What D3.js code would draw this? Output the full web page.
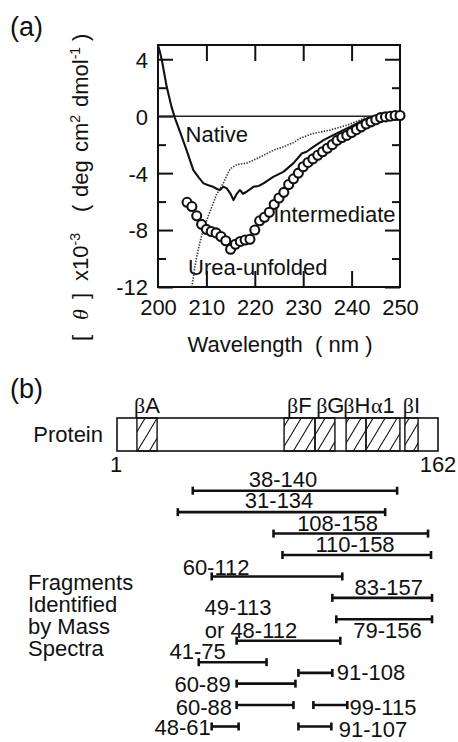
<!DOCTYPE html>
<html>
<head>
<meta charset="utf-8">
<script src="https://cdn.jsdelivr.net/npm/d3@7"></script>
<style>
  html, body { margin: 0; padding: 0; background: #fff; }
  svg { display: block; font-family: "Liberation Sans", Arial, Helvetica, sans-serif; }
  .axis text { font-family: "Liberation Sans", Arial, sans-serif; font-size: 22px; fill: #111; }
  .axis line { stroke: #111; stroke-width: 2; }
</style>
</head>
<body>
<div id="chart"></div>
<script>
// panel (a): CD spectra, panel (b): fragment map

// --- data (a) ---
const nativeWl  = [200, 200.4, 200.8, 201.8, 202.8, 203.5, 204.5, 205.9, 207.3, 208.4, 209.4, 210.4, 211.4, 212.1, 212.8, 213.5, 214.2, 214.9, 215.6, 216.2, 216.9, 217.6, 218.3, 219.7, 220.8, 221.8, 223.8, 225.9, 228.0, 229.7, 230.7, 232.1, 234.2, 236.2, 238.3, 240.4, 242.4, 243.8, 246.9, 250];
const nativeVal = [4.98, 4.5, 3.93, 2.06, 0.65, -0.14, -1.05, -2.39, -3.79, -4.3, -4.72, -4.85, -4.96, -5.1, -5.19, -4.95, -5.07, -5.4, -5.89, -5.5, -5.19, -5.45, -5.31, -4.96, -4.9, -4.72, -4.26, -3.91, -3.30, -2.62, -2.50, -2.15, -1.68, -1.33, -0.98, -0.63, -0.28, -0.07, 0, 0];

const ureaWl  = [207.0, 207.6, 208.3, 209.0, 210.4, 211.1, 212.1, 213.5, 214.9, 216.3, 218.3, 219.7, 221.8, 223.8, 225.9, 228.0, 229.3, 232.1, 235.5, 239.0, 241.7, 243.1, 245];
const ureaVal = [-12.0, -10.6, -9.4, -8.4, -7.0, -6.4, -5.5, -4.7, -3.7, -3.4, -3.3, -3.1, -2.75, -2.4, -2.15, -1.85, -1.56, -1.21, -0.98, -0.63, -0.28, -0.05, 0];

const interWl  = [206, 207, 208, 209, 210, 211, 212, 213, 214, 215, 216, 217, 218, 219, 220, 221, 222, 223, 224, 225, 226, 227, 228, 229, 230, 231, 232, 233, 234, 235, 236, 237, 238, 239, 240, 241, 242, 243, 244, 245, 246, 247, 248, 249, 250];
const interVal = [-6.05, -6.35, -7.0, -7.6, -7.95, -8.1, -8.2, -8.45, -8.75, -9.35, -9.0, -8.8, -8.7, -8.65, -8.0, -7.35, -7.1, -6.75, -6.2, -5.75, -5.35, -4.8, -4.4, -4.0, -3.55, -3.25, -3.0, -2.75, -2.5, -2.25, -2.0, -1.7, -1.5, -1.35, -1.15, -0.95, -0.75, -0.55, -0.4, -0.25, -0.1, -0.05, 0.0, 0.05, 0.05];

const yMajorTicks = [4, 0, -4, -8, -12];
const yMinorTicks = [2, -2, -6, -10];
const xTicks      = [200, 210, 220, 230, 240, 250];

const curveLabels = ["Native", "Intermediate", "Urea-unfolded"];
const curveLabelWl  = [205.7, 223.8, 206.2];
const curveLabelVal = [-1.8, -7.44, -11.16];

// --- data (b) ---
const structNames = ["A", "F", "G", "H", "1", "I"];
const structGreek = ["β", "β", "β", "β", "α", "β"];
const structStart = [11, 84.8, 100.3, 115.9, 125.9, 145.4];
const structEnd   = [21.1, 100.3, 110.3, 125.9, 142.9, 152];
const structLabelAt = [16, 92.5, 108, 121.3, 134.4, 148.7];

const fragStart = [39, 31.5, 79.5, 84, 48.5, 109, 111, 61, 42, 92, 61, 61, 99.5, 48.5, 92];
const fragEnd   = [141.5, 135.5, 157, 158.5, 114, 159, 159, 113, 76, 109, 90.5, 89.5, 116.5, 62, 108.5];
const fragRow   = [0, 1, 2, 3, 4, 5, 6, 7, 8, 8.5, 9, 10, 10, 11, 11];

const fragLabels   = ["38-140", "31-134", "108-158", "110-158", "60-112", "83-157", "79-156", "49-113", "or 48-112", "41-75", "91-108", "60-89", "60-88", "99-115", "48-61", "91-107"];
const fragLabelRes = [84.3, 82.3, 111.6, 120.4, 50.7, 137.3, 136.7, 61.7, 68.2, 41.4, 128.4, 43.9, 44.6, 134.4, 33.9, 129.4];
const fragLabelRow = [-0.19, 0.81, 1.87, 2.85, 3.93, 4.87, 6.87, 5.80, 6.87, 7.85, 8.83, 9.39, 10.47, 10.47, 11.40, 11.5];

const sideText = ["Fragments", "Identified", "by Mass", "Spectra"];

const W = 458, H = 742;
const svg = d3.select("#chart").append("svg").attr("width", W).attr("height", H);
const defs = svg.append("defs");

// ================= panel (a) =================
const plot = { left: 158, right: 400, top: 45, bottom: 287 };
const x = d3.scaleLinear().domain([200, 250]).range([plot.left, plot.right]);
const y = d3.scaleLinear().domain([-12, 5]).range([plot.bottom, plot.top]);

svg.append("text").attr("x", 10).attr("y", 36)
  .attr("font-size", 27).attr("fill", "#111").text("(a)");

defs.append("clipPath").attr("id", "clipA")
  .append("rect").attr("x", plot.left).attr("y", plot.top)
  .attr("width", plot.right - plot.left).attr("height", plot.bottom - plot.top);

// axes
const gl = svg.append("g").attr("class", "axis").attr("transform", `translate(${plot.left},0)`)
  .call(d3.axisLeft(y).tickValues(yMajorTicks).tickSizeInner(-15).tickSizeOuter(0).tickPadding(10)
    .tickFormat(d => d < 0 ? "-" + Math.abs(d) : d));
gl.select(".domain").remove();
gl.selectAll("text").attr("dy", "0.36em");

const glm = svg.append("g").attr("class", "axis").attr("transform", `translate(${plot.left},0)`)
  .call(d3.axisLeft(y).tickValues(yMinorTicks).tickSize(-8).tickFormat(""));
glm.select(".domain").remove();

const gr = svg.append("g").attr("class", "axis").attr("transform", `translate(${plot.right},0)`)
  .call(d3.axisRight(y).tickValues(yMajorTicks).tickSize(-15).tickFormat(""));
gr.select(".domain").remove();
const grm = svg.append("g").attr("class", "axis").attr("transform", `translate(${plot.right},0)`)
  .call(d3.axisRight(y).tickValues(yMinorTicks).tickSize(-8).tickFormat(""));
grm.select(".domain").remove();

const gt = svg.append("g").attr("class", "axis").attr("transform", `translate(0,${plot.top})`)
  .call(d3.axisTop(x).tickValues(xTicks.slice(1, -1)).tickSize(-16).tickFormat(""));
gt.select(".domain").remove();

const gb = svg.append("g").attr("class", "axis").attr("transform", `translate(0,${plot.bottom})`)
  .call(d3.axisBottom(x).tickValues(xTicks).tickSizeInner(-16).tickSizeOuter(0).tickPadding(12));
gb.select(".domain").remove();
gb.selectAll(".tick line").filter(d => d === 200 || d === 250).remove();

// frame + zero line
svg.append("rect")
  .attr("x", plot.left).attr("y", plot.top)
  .attr("width", plot.right - plot.left).attr("height", plot.bottom - plot.top)
  .attr("fill", "none").attr("stroke", "#111").attr("stroke-width", 2);

svg.append("line")
  .attr("x1", plot.left).attr("x2", plot.right)
  .attr("y1", y(0)).attr("y2", y(0))
  .attr("stroke", "#222").attr("stroke-width", 1.6);

const curves = svg.append("g").attr("clip-path", "url(#clipA)");
const line = d3.line().x(d => x(d[0])).y(d => y(d[1]));

curves.append("path")
  .datum(d3.zip(ureaWl, ureaVal))
  .attr("d", line)
  .attr("fill", "none").attr("stroke", "#333").attr("stroke-width", 1.6)
  .attr("stroke-dasharray", "1.4,1.4");

curves.append("path")
  .datum(d3.zip(nativeWl, nativeVal))
  .attr("d", line)
  .attr("fill", "none").attr("stroke", "#111").attr("stroke-width", 2.1)
  .attr("stroke-linejoin", "round");

svg.append("g").selectAll("circle")
  .data(d3.zip(interWl, interVal))
  .enter().append("circle")
  .attr("cx", d => x(d[0])).attr("cy", d => y(d[1]))
  .attr("r", 4.5)
  .attr("fill", "#fff").attr("stroke", "#111").attr("stroke-width", 2.1);

svg.append("g").selectAll("text")
  .data(curveLabels)
  .enter().append("text")
  .attr("x", (d, i) => x(curveLabelWl[i]))
  .attr("y", (d, i) => y(curveLabelVal[i]))
  .attr("font-size", 22).attr("fill", "#111")
  .text(d => d);

// axis titles
svg.append("text")
  .attr("x", (plot.left + plot.right) / 2 + 1).attr("y", 352)
  .attr("text-anchor", "middle").attr("font-size", 22).attr("fill", "#111")
  .attr("xml:space", "preserve")
  .text("Wavelength  ( nm )");

// y title: rotated, tspan x = -(page y where the piece starts)
const yt = svg.append("text")
  .attr("transform", "translate(88,0) rotate(-90)")
  .attr("font-size", 22).attr("fill", "#111");
const serif = "'Liberation Serif', 'Times New Roman', serif";
yt.append("tspan").attr("x", -341).text("[");
yt.append("tspan").attr("x", -320).attr("font-family", serif).attr("font-style", "italic").text("θ");
yt.append("tspan").attr("x", -299).text("]");
yt.append("tspan").attr("x", -281).text("x10");
yt.append("tspan").attr("dy", -8).attr("font-size", 14).text("-3");
yt.append("tspan").attr("x", -212).attr("dy", 8).text("(");
yt.append("tspan").attr("x", -197).text("deg");
yt.append("tspan").attr("x", -152).text("cm");
yt.append("tspan").attr("dy", -8).attr("font-size", 14).text("2");
yt.append("tspan").attr("x", -107).attr("dy", 8).text("dmol");
yt.append("tspan").attr("dy", -8).attr("font-size", 14).text("-1");
yt.append("tspan").attr("x", -41).attr("dy", 8).text(")");

// ================= panel (b) =================
const res = d3.scaleLinear().domain([1, 162]).range([117, 438]);
const row = d3.scaleLinear().domain([0, 11]).range([490.7, 726.5]);
const box = { top: 418, bottom: 451 };

svg.append("text").attr("x", 10).attr("y", 398)
  .attr("font-size", 27).attr("fill", "#111").text("(b)");

const pat = defs.append("pattern").attr("id", "hatch")
  .attr("patternUnits", "userSpaceOnUse").attr("width", 12).attr("height", 20);
pat.append("path")
  .attr("d", "M0,20 L12,0 M-3,5 L3,-5 M9,25 L15,15")
  .attr("stroke", "#111").attr("stroke-width", 1.1);

svg.append("text")
  .attr("x", 103).attr("y", 442).attr("text-anchor", "end")
  .attr("font-size", 22).attr("fill", "#111").text("Protein");

svg.append("rect")
  .attr("x", res(1)).attr("y", box.top)
  .attr("width", res(162) - res(1)).attr("height", box.bottom - box.top)
  .attr("fill", "#fff").attr("stroke", "#111").attr("stroke-width", 1.6);

svg.append("g").selectAll("rect")
  .data(structStart)
  .enter().append("rect")
  .attr("x", d => res(d)).attr("y", box.top)
  .attr("width", (d, i) => res(structEnd[i]) - res(d)).attr("height", box.bottom - box.top)
  .attr("fill", "url(#hatch)").attr("stroke", "#111").attr("stroke-width", 1.4);

const sl = svg.append("g").selectAll("text")
  .data(structNames)
  .enter().append("text")
  .attr("x", (d, i) => res(structLabelAt[i]))
  .attr("y", box.top - 5)
  .attr("text-anchor", "middle").attr("font-size", 22).attr("fill", "#111");
sl.append("tspan").attr("font-family", serif)
  .text((d, i) => structGreek[i]);
sl.append("tspan").text(d => d);

svg.append("text").attr("x", res(1) - 1).attr("y", 472)
  .attr("text-anchor", "middle").attr("font-size", 22).attr("fill", "#111").text("1");
svg.append("text").attr("x", res(162)).attr("y", 472)
  .attr("text-anchor", "middle").attr("font-size", 22).attr("fill", "#111").text("162");

// fragment bars
const frag = svg.append("g").attr("stroke", "#111");
frag.selectAll("line.bar")
  .data(fragStart)
  .enter().append("line").attr("class", "bar")
  .attr("x1", d => res(d)).attr("x2", (d, i) => res(fragEnd[i]))
  .attr("y1", (d, i) => row(fragRow[i])).attr("y2", (d, i) => row(fragRow[i]))
  .attr("stroke-width", 2.6);

const caps = fragStart.flatMap((d, i) => [[d, fragRow[i]], [fragEnd[i], fragRow[i]]]);
frag.selectAll("line.cap")
  .data(caps)
  .enter().append("line").attr("class", "cap")
  .attr("x1", d => res(d[0])).attr("x2", d => res(d[0]))
  .attr("y1", d => row(d[1]) - 4).attr("y2", d => row(d[1]) + 4)
  .attr("stroke-width", 2.6);

svg.append("g").selectAll("text")
  .data(fragLabels)
  .enter().append("text")
  .attr("x", (d, i) => res(fragLabelRes[i]))
  .attr("y", (d, i) => row(fragLabelRow[i]))
  .attr("text-anchor", "middle").attr("font-size", 22).attr("fill", "#111")
  .text(d => d);

svg.append("g").selectAll("text")
  .data(sideText)
  .enter().append("text")
  .attr("x", 28).attr("y", (d, i) => 590 + i * 22)
  .attr("font-size", 22).attr("fill", "#111")
  .text(d => d);
</script>
</body>
</html>
